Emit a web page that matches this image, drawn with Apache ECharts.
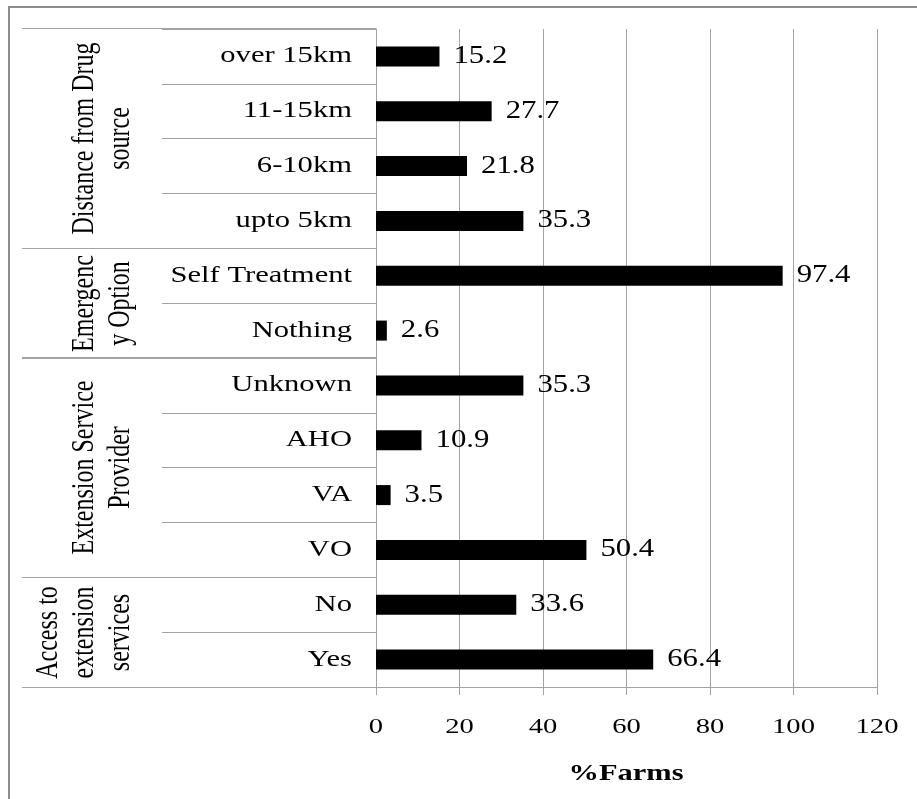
<!DOCTYPE html>
<html>
<head>
<meta charset="utf-8">
<title>% Farms by category</title>
<script src="https://cdn.jsdelivr.net/npm/echarts@6/dist/echarts.min.js"></script>
<style>
  html, body { margin: 0; padding: 0; background: #fff; }
  #chart { width: 917px; height: 799px; }
</style>
</head>
<body>
<div id="chart"></div>
<script>
// Row labels, top to bottom
const categories = ['over 15km', '11-15km', '6-10km', 'upto 5km', 'Self Treatment', 'Nothing',
  'Unknown', 'AHO', 'VA', 'VO', 'No', 'Yes'];
// Share of farms (%) for each row
const farmPercent = [15.2, 27.7, 21.8, 35.3, 97.4, 2.6, 35.3, 10.9, 3.5, 50.4, 33.6, 66.4];
// Row groups (rotated labels at the far left) and how many rows each spans
const groupNames = ['Distance from Drug\nsource', 'Emergenc\ny Option', 'Extension Service\nProvider',
  'Access to\nextension\nservices'];
const groupSizes = [4, 2, 4, 2];
// Value axis ticks
const xTicks = [0, 20, 40, 60, 80, 100, 120];
const xAxisTitle = '%Farms';

const FONT = '"Liberation Serif", "Times New Roman", serif';
const LINE = '#a3a3a3';
const TABLE_LEFT = 22;

// group ranges as [0, firstRow, lastRow]
const groupRanges = [];
let start = 0;
groupSizes.forEach(n => { groupRanges.push([0, start, start + n - 1]); start += n; });

const crisp = v => Math.round(v - 0.5) + 0.5;

const chart = echarts.init(document.getElementById('chart'), null, { renderer: 'canvas' });

chart.setOption({
  animation: false,
  backgroundColor: '#fff',
  grid: { left: 376, right: 40, top: 29, bottom: 112, containLabel: false },
  xAxis: {
    type: 'value', min: 0, max: 120, interval: 20,
    axisLine: { show: true, lineStyle: { color: LINE, width: 1 } },
    axisTick: { show: true, length: 8, lineStyle: { color: LINE } },
    axisLabel: { show: false },
    splitLine: { show: true, lineStyle: { color: LINE, width: 1 } }
  },
  yAxis: {
    type: 'category', data: categories, inverse: true,
    axisLine: { show: true, lineStyle: { color: LINE, width: 1 } },
    axisTick: { show: true, interval: 0, length: 214, lineStyle: { color: LINE } },
    axisLabel: { show: false },
    splitLine: { show: false }
  },
  graphic: [
    { type: 'polyline', shape: { points: [[9, 799], [9, 7], [917, 7]] },
      style: { stroke: '#8c8c8c', lineWidth: 2, fill: null }, silent: true },
    { type: 'text', x: 626, y: 774, scaleX: 1.27,
      style: { text: xAxisTitle, fontSize: 24, fontWeight: 'bold', fontFamily: FONT,
        fill: '#000', align: 'center', verticalAlign: 'middle' } }
  ],
  series: [
    {
      name: 'Farms', type: 'bar', data: farmPercent, barWidth: 20,
      itemStyle: { color: '#000' }, silent: true
    },
    {
      // value labels to the right of each bar
      type: 'custom', clip: false, silent: true, z: 5,
      data: farmPercent.map((v, i) => [v, i]),
      renderItem: (params, api) => {
        const p = api.coord([api.value(0), api.value(1)]);
        return {
          type: 'text', x: p[0] + 14, y: p[1], scaleX: 1.23,
          style: { text: String(farmPercent[params.dataIndex]), fontSize: 25, fontFamily: FONT,
            fill: '#000', align: 'left', verticalAlign: 'middle' }
        };
      }
    },
    {
      // row labels in the table column
      type: 'custom', clip: false, silent: true, z: 5,
      data: categories.map((c, i) => [0, i]),
      renderItem: (params, api) => {
        const p = api.coord([0, api.value(1)]);
        return {
          type: 'text', x: p[0] - 24, y: p[1], scaleX: 1.33,
          style: { text: categories[params.dataIndex], fontSize: 23, fontFamily: FONT,
            fill: '#000', align: 'right', verticalAlign: 'middle' }
        };
      }
    },
    {
      // group separators and rotated group labels
      type: 'custom', clip: false, silent: true, z: 5,
      data: groupRanges,
      renderItem: (params, api) => {
        const cs = params.coordSys;
        const band = api.size([0, 1])[1];
        const yTop = crisp(api.coord([0, api.value(1)])[1] - band / 2);
        const yBot = crisp(api.coord([0, api.value(2)])[1] + band / 2);
        return {
          type: 'group',
          children: [
            { type: 'line', shape: { x1: TABLE_LEFT, y1: yTop, x2: cs.x, y2: yTop },
              style: { stroke: LINE, lineWidth: 1 } },
            { type: 'line', shape: { x1: TABLE_LEFT, y1: yBot, x2: cs.x, y2: yBot },
              style: { stroke: LINE, lineWidth: 1 } },
            { type: 'text', x: 139, y: (yTop + yBot) / 2, rotation: Math.PI / 2, scaleY: 1.28,
              style: { text: groupNames[params.dataIndex], fontSize: 24, fontFamily: FONT,
                lineHeight: 28, fill: '#000', align: 'center', verticalAlign: 'bottom' } }
          ]
        };
      }
    },
    {
      // value-axis tick labels
      type: 'custom', clip: false, silent: true, z: 5,
      data: xTicks.map(t => [t, 0]),
      renderItem: (params, api) => {
        const cs = params.coordSys;
        const p = api.coord([api.value(0), 0]);
        return {
          type: 'text', x: p[0], y: cs.y + cs.height + 40, scaleX: 1.3,
          style: { text: String(xTicks[params.dataIndex]), fontSize: 22, fontFamily: FONT,
            fill: '#000', align: 'center', verticalAlign: 'middle' }
        };
      }
    }
  ]
});
</script>
</body>
</html>
